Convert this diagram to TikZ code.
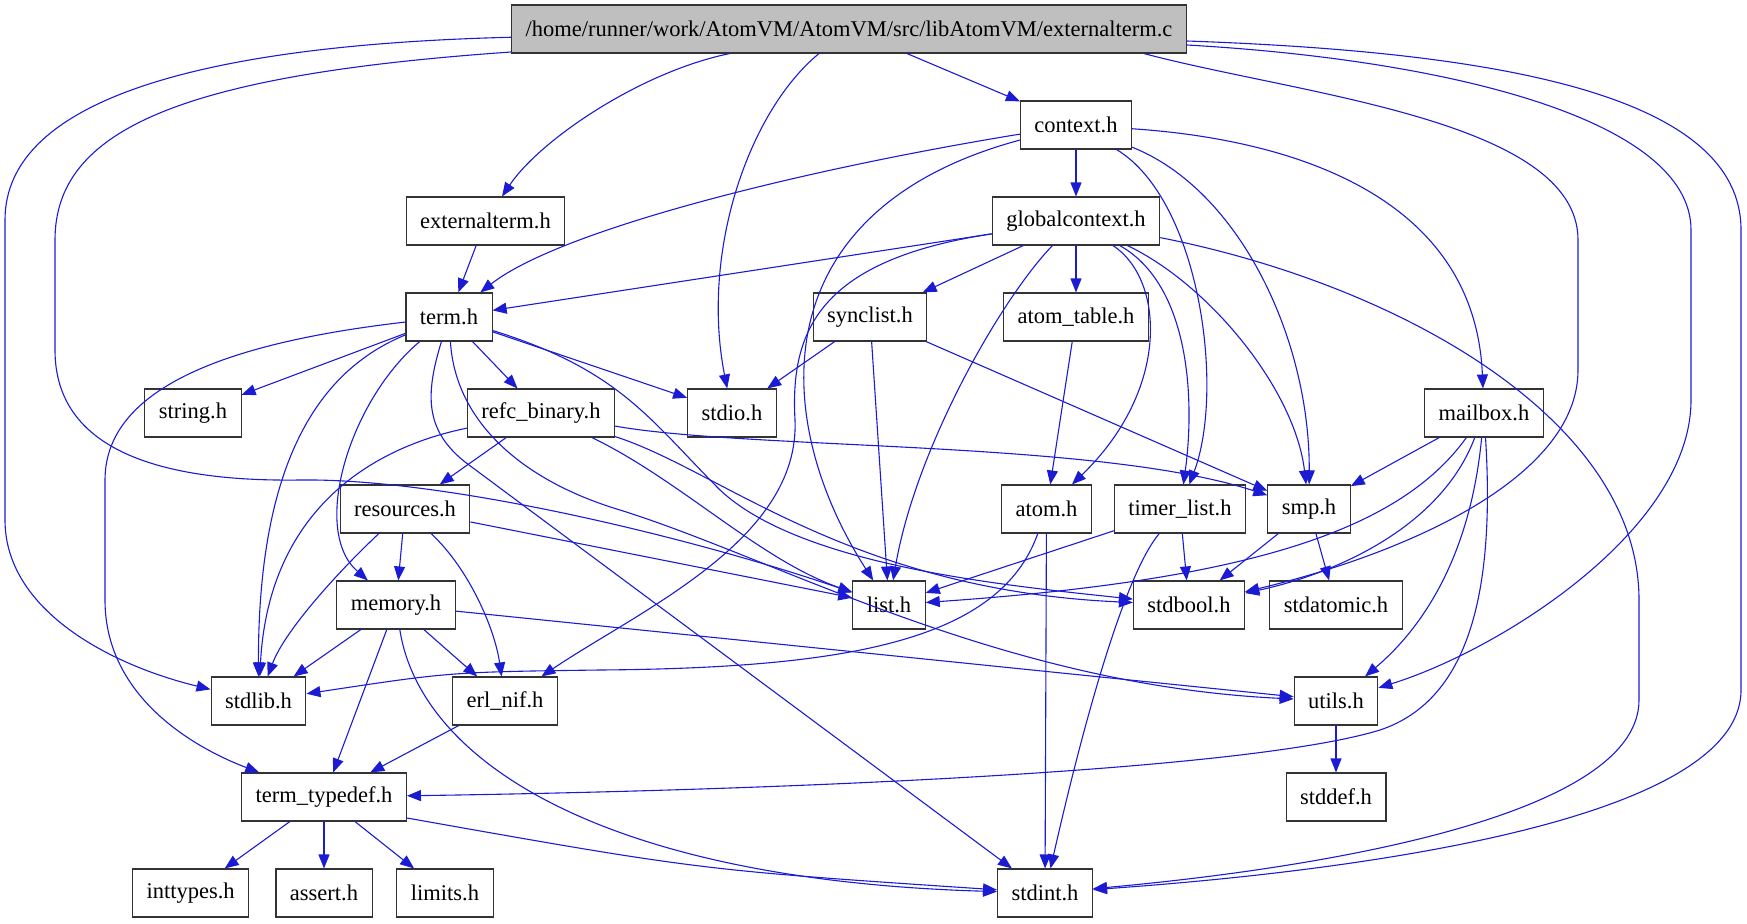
\documentclass[tikz,border=0pt]{standalone}
\usepackage{fontspec}
\setmainfont{Liberation Serif}
\usetikzlibrary{arrows.meta}
\definecolor{depblue}{RGB}{27,27,212}
\definecolor{rootgray}{RGB}{191,191,191}

\begin{document}
\begin{tikzpicture}[x=1pt,y=1pt,>={Triangle[length=14pt,width=11pt]},node distance=96pt,
    hdr node/.style={rectangle,draw=black!80,line width=1.1pt,fill=white,minimum height=48pt,inner xsep=14pt,inner ysep=0pt,font=\fontsize{22.5}{27}\selectfont},
    dep/.style={->,draw=depblue,line width=1.1pt}]

            \useasboundingbox (0,0) rectangle (1747,-923);

            \node[hdr node, fill=rootgray] (root) at (849,-29) {/home/runner/work/AtomVM/AtomVM/src/libAtomVM/externalterm.c};
            \node[hdr node] (context) at (1076,-125) {context.h};
            \node[hdr node] (gcontext) [below of = context] {globalcontext.h};
            \node[hdr node] (atomtable) [below of = gcontext] {atom\_table.h};
            \node[hdr node] (extterm) at (485.5,-221) {externalterm.h};
            \node[hdr node] (term) at (449,-317) {term.h};
            \node[hdr node] (synclist) at (870,-317) {synclist.h};
            \node[hdr node] (string) at (193,-413) {string.h};
            \node[hdr node] (refc) at (541,-413) {refc\_binary.h};
            \node[hdr node] (stdio) at (732,-413) {stdio.h};
            \node[hdr node] (mailbox) at (1484,-413) {mailbox.h};
            \node[hdr node] (resources) at (405,-509) {resources.h};
            \node[hdr node] (atom) at (1046.5,-509) {atom.h};
            \node[hdr node] (timerlist) at (1180,-509) {timer\_list.h};
            \node[hdr node] (smp) at (1309,-509) {smp.h};
            \node[hdr node] (memory) at (396,-605) {memory.h};
            \node[hdr node] (list) at (889,-605) {list.h};
            \node[hdr node] (stdbool) at (1189,-605) {stdbool.h};
            \node[hdr node] (stdatomic) at (1336,-605) {stdatomic.h};
            \node[hdr node] (stdlib) at (258.5,-701) {stdlib.h};
            \node[hdr node] (erlnif) at (505,-701) {erl\_nif.h};
            \node[hdr node] (utils) [below of = stdatomic] {utils.h};
            \node[hdr node] (typedef) at (324,-797) {term\_typedef.h};
            \node[hdr node] (stddef) [below of = utils] {stddef.h};
            \node[hdr node] (inttypes) at (190.6,-893) {inttypes.h};
            \node[hdr node] (assert) [below of = typedef] {assert.h};
            \node[hdr node] (limits) at (445,-893) {limits.h};
            \node[hdr node] (stdint) at (1045,-893) {stdint.h};

            % externalterm.c
            \draw[dep] (root) to (context);
            \draw[dep] (root) .. controls (640,-72) and (540,-140) .. (extterm);
            \draw[dep] (root) .. controls (750,-110) and (700,-250) .. (stdio);
            \draw[dep] (root) .. controls (200,-45) and (5,-100) .. (5,-220) -- (5,-520) .. controls (5,-610) and (110,-665) .. (stdlib);
            \draw[dep] (root) .. controls (180,-75) and (55,-130) .. (55,-240) -- (55,-350) .. controls (55,-450) and (160,-482) .. (300,-480) .. controls (450,-478) and (700,-540) .. (list);
            \draw[dep] ([xshift=-43pt]root.south east) .. controls (1300,-95) and (1578,-120) .. (1578,-240) -- (1578,-370) .. controls (1578,-480) and (1400,-555) .. (stdbool);
            \draw[dep] ([yshift=-16pt]root.east) .. controls (1450,-60) and (1691,-120) .. (1691,-230) -- (1691,-400) .. controls (1691,-530) and (1500,-650) .. (utils);
            \draw[dep] ([yshift=-12pt]root.east) .. controls (1500,-52) and (1741,-95) .. (1741,-230) -- (1741,-690) .. controls (1741,-830) and (1300,-875) .. (stdint);

            \draw[dep] (extterm) to (term);

            % context.h
            \draw[dep] (context) to (gcontext);
            \draw[dep] (context) .. controls (800,-170) and (560,-230) .. (term);
            \draw[dep] (context) .. controls (760,-210) and (770,-420) .. (list);
            \draw[dep] (context) .. controls (1200,-200) and (1225,-390) .. (timerlist);
            \draw[dep] (context) .. controls (1240,-190) and (1310,-340) .. (smp);
            \draw[dep] (context) .. controls (1300,-140) and (1475,-200) .. (mailbox);

            % globalcontext.h
            \draw[dep] (gcontext) to (term);
            \draw[dep] (gcontext) .. controls (820,-260) and (790,-330) .. (795,-420) .. controls (800,-540) and (640,-610) .. (erlnif);
            \draw[dep] (gcontext) to (synclist);
            \draw[dep] (gcontext) .. controls (1000,-300) and (915,-450) .. (list);
            \draw[dep] (gcontext) to (atomtable);
            \draw[dep] (gcontext) .. controls (1165,-280) and (1170,-390) .. (atom);
            \draw[dep] (gcontext) .. controls (1190,-285) and (1195,-400) .. (timerlist);
            \draw[dep] (gcontext) .. controls (1210,-285) and (1295,-390) .. (smp);
            \draw[dep] (gcontext) .. controls (1400,-285) and (1639,-420) .. (1639,-600) -- (1639,-700) .. controls (1639,-820) and (1300,-870) .. (stdint);

            % term.h
            \draw[dep] (term) .. controls (250,-340) and (105,-380) .. (105,-480) -- (105,-600) .. controls (105,-700) and (200,-750) .. (typedef);
            \draw[dep] (term) to (string);
            \draw[dep] (term) .. controls (320,-370) and (258,-460) .. (stdlib);
            \draw[dep] (term) .. controls (350,-400) and (310,-530) .. (memory);
            \draw[dep] (term) .. controls (425,-395) and (425,-430) .. (465,-462) -- (stdint);
            \draw[dep] (term) .. controls (455,-420) and (520,-480) .. (620,-510) .. controls (780,-560) and (1000,-685) .. (utils);
            \draw[dep] (term) to (refc);
            \draw[dep] (term) to (stdio);
            \draw[dep] (term) .. controls (620,-370) and (650,-420) .. (720,-490) .. controls (800,-565) and (1000,-585) .. (stdbool);

            \draw[dep] (synclist) to (stdio);
            \draw[dep] (synclist) to (list);
            \draw[dep] (synclist) to (smp);
            \draw[dep] (atomtable) to (atom);

            % refc_binary.h
            \draw[dep] (refc) to (resources);
            \draw[dep] (refc) .. controls (360,-450) and (268,-520) .. (stdlib);
            \draw[dep] (refc) .. controls (750,-450) and (1100,-440) .. (smp);
            \draw[dep] (refc) .. controls (680,-480) and (760,-560) .. (list);
            \draw[dep] (refc) .. controls (720,-470) and (850,-590) .. (stdbool);

            % mailbox.h
            \draw[dep] (mailbox) to (smp);
            \draw[dep] (mailbox) .. controls (1400,-530) and (1250,-580) .. (list);
            \draw[dep] (mailbox) .. controls (1440,-530) and (1330,-575) .. (stdbool);
            \draw[dep] (mailbox) .. controls (1470,-560) and (1420,-630) .. (utils);
            \draw[dep] (mailbox) .. controls (1495,-590) and (1470,-700) .. (1380,-730) .. controls (1250,-770) and (800,-790) .. (typedef);

            % resources.h
            \draw[dep] (resources) to (memory);
            \draw[dep] (resources) .. controls (340,-570) and (285,-630) .. (stdlib);
            \draw[dep] (resources) .. controls (470,-570) and (495,-630) .. (erlnif);
            \draw[dep] (resources) to (list);

            \draw[dep] (atom) to (stdint);
            \draw[dep] (atom) .. controls (1000,-640) and (850,-668) .. (600,-670) .. controls (450,-672) .. (stdlib);

            \draw[dep] (timerlist) to (list);
            \draw[dep] (timerlist) to (stdbool);
            \draw[dep] (timerlist) .. controls (1120,-580) and (1075,-760) .. (stdint);

            \draw[dep] (smp) to (stdbool);
            \draw[dep] (smp) to (stdatomic);

            % memory.h
            \draw[dep] (memory) to (stdlib);
            \draw[dep] (memory) to (typedef);
            \draw[dep] (memory) to (erlnif);
            \draw[dep] (memory) to (utils);
            \draw[dep] (memory) .. controls (420,-760) and (600,-880) .. (stdint);

            \draw[dep] (erlnif) to (typedef);
            \draw[dep] (utils) to (stddef);

            % term_typedef.h
            \draw[dep] (typedef) to (inttypes);
            \draw[dep] (typedef) to (assert);
            \draw[dep] (typedef) to (limits);
            \draw[dep] ([yshift=-21pt]typedef.east) .. controls (700,-870) .. (stdint);

            ;
        \end{tikzpicture}
\end{document}
